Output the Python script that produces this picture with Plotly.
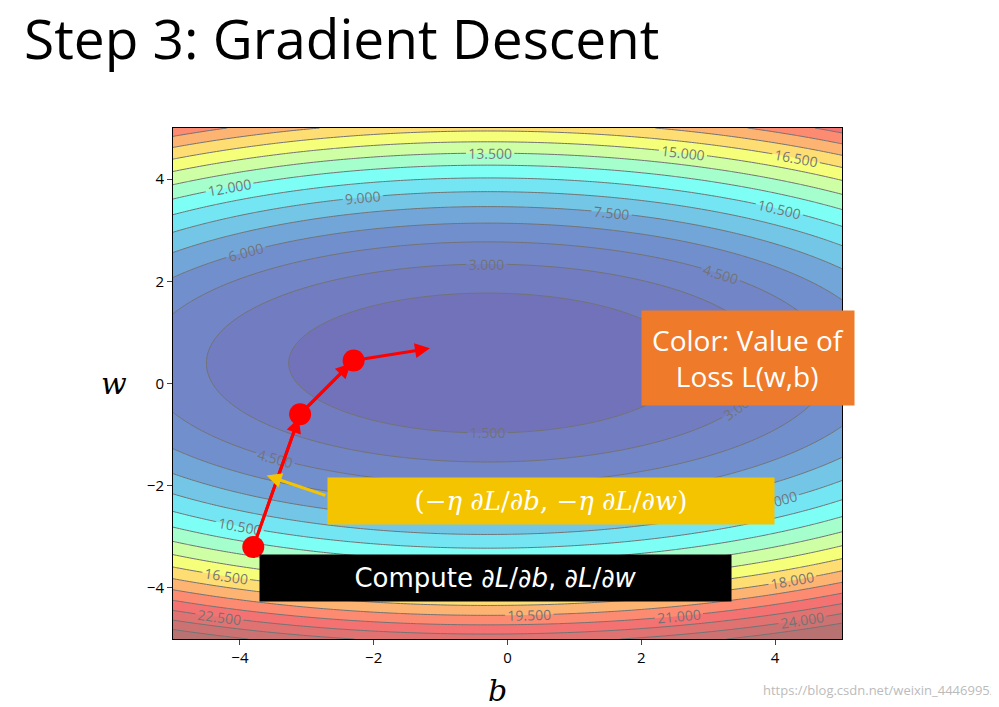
import numpy as np
import plotly.graph_objects as go

# loss surface L(b, w) = a_b*(b-b0)^2 + a_w*(w-w0)^2, coefficients
b0, w0 = -0.3, 0.4
a_b, a_w = 0.17, 0.8
b_vals = np.linspace(-5, 5, 201)
w_vals = np.linspace(-5, 5, 201)
B, W = np.meshgrid(b_vals, w_vals)
L = a_b * (B - b0) ** 2 + a_w * (W - w0) ** 2

# gradient descent path
path_b = [-3.8, -3.1, -2.3]
path_w = [-3.2, -0.6, 0.45]
next_b, next_w = -1.1, 0.7

fig = go.Figure()

fig.add_trace(go.Contour(
    x=b_vals, y=w_vals, z=L,
    colorscale='Jet', opacity=0.55, showscale=False, zmin=0, zmax=29,
    contours=dict(start=1.5, end=25.5, size=1.5, showlabels=True,
                  labelformat='.3f', labelfont=dict(size=14, color='black')),
    line=dict(color='black', width=1),
    hoverinfo='skip'
))

fig.add_trace(go.Scatter(
    x=path_b, y=path_w, mode='lines+markers',
    line=dict(color='red', width=3),
    marker=dict(color='red', size=22),
    hoverinfo='skip'
))

# arrows between steps
pts = list(zip(path_b, path_w)) + [(next_b, next_w)]
for (x0, y0), (x1, y1) in zip(pts[:-1], pts[1:]):
    fig.add_annotation(x=x1, y=y1, ax=x0, ay=y0, xref='x', yref='y', axref='x', ayref='y',
                       showarrow=True, arrowhead=2, arrowsize=1, arrowwidth=3,
                       arrowcolor='red', text='', standoff=4)

# yellow arrow
fig.add_annotation(x=-3.6, y=-1.8, ax=-2.7, ay=-2.2, xref='x', yref='y', axref='x', ayref='y',
                   showarrow=True, arrowhead=2, arrowwidth=3, arrowcolor='#f5c400', text='')

fig.add_annotation(x=0.65, y=-2.3, xref='x', yref='y', showarrow=False,
                   text='(−<i>η</i> ∂<i>L</i>/∂<i>b</i>, −<i>η</i> ∂<i>L</i>/∂<i>w</i>)',
                   font=dict(family='DejaVu Serif', size=26, color='white'),
                   bgcolor='#f5c400', borderpad=8, width=430)
fig.add_annotation(x=-0.18, y=-3.8, xref='x', yref='y', showarrow=False,
                   text='Compute ∂<i>L</i>/∂<i>b</i>, ∂<i>L</i>/∂<i>w</i>',
                   font=dict(family='DejaVu Sans', size=26, color='white'),
                   bgcolor='black', borderpad=8, width=455)
fig.add_annotation(x=1.02, y=0.55, xref='paper', yref='paper', showarrow=False,
                   text='Color: Value of<br>Loss L(w,b)',
                   font=dict(family='Open Sans', size=28, color='white'),
                   bgcolor='#ee7a2a', borderpad=10)

fig.add_annotation(x=-0.225, y=1.255, xref='paper', yref='paper', showarrow=False,
                   xanchor='left', yanchor='top', text='Step 3: Gradient Descent',
                   font=dict(family='Open Sans', size=55, color='black'))
fig.add_annotation(x=-0.11, y=0.5, xref='paper', yref='paper', showarrow=False,
                   text='<i>w</i>', font=dict(family='DejaVu Serif', size=30, color='black'))
fig.add_annotation(x=0.485, y=-0.1, xref='paper', yref='paper', showarrow=False,
                   yanchor='middle', text='<i>b</i>',
                   font=dict(family='DejaVu Serif', size=30, color='black'))
fig.add_annotation(x=1.235, y=-0.1, xref='paper', yref='paper', showarrow=False,
                   xanchor='right', yanchor='middle', text='https://blog.csdn.net/weixin_44469952',
                   font=dict(size=13, color='#bbbbbb'))

fig.update_xaxes(range=[-5, 5], tickvals=[-4, -2, 0, 2, 4], ticks='outside',
                 showgrid=False, zeroline=False, mirror=True, showline=True, linecolor='black',
                 tickfont=dict(size=15, color='black'))
fig.update_yaxes(range=[-5, 5], tickvals=[-4, -2, 0, 2, 4], ticks='outside',
                 showgrid=False, zeroline=False, mirror=True, showline=True, linecolor='black',
                 tickfont=dict(size=15, color='black'))
fig.update_layout(width=999, height=707, showlegend=False,
                  margin=dict(l=165, r=165, t=120, b=76),
                  paper_bgcolor='white', plot_bgcolor='white')

fig.write_html("out.html")
